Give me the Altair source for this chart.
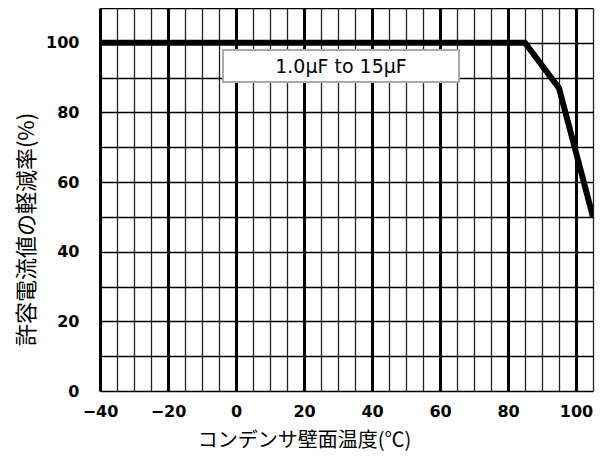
import altair as alt
import pandas as pd

temps = [-40, 85, 95, 105]
rates = [100, 100, 87, 50]
series_label = "1.0μF to 15μF"
x_ticks = list(range(-40, 106, 5))
y_ticks = list(range(0, 111, 10))

df = pd.DataFrame({"t": temps, "r": rates})

x_axis = alt.Axis(
    values=x_ticks,
    labelExpr="datum.value % 20 === 0 && datum.value <= 100 ? datum.label : ''",
    grid=True,
    gridColor={"condition": {"test": "datum.value % 20 === 0", "value": "#000000"}, "value": "#222222"},
    gridWidth={"condition": {"test": "datum.value % 20 === 0", "value": 3}, "value": 1.3},
    ticks=False,
    domain=False,
    labelFont="DejaVu Sans",
    labelFontWeight="bold",
    labelFontSize=16,
    labelColor="#000000",
    labelPadding=12,
    labelFlush=False,
    title="コンデンサ壁面温度(℃)",
    titleFont="Noto Sans CJK JP",
    titleFontWeight="normal",
    titleFontSize=20,
    titleColor="#000000",
    titleAnchor="start",
    titleAlign="center",
    titleBaseline="middle",
    titleLimit=500,
    titleX=204,
    titleY=49,
)

y_axis = alt.Axis(
    values=y_ticks,
    labelExpr="datum.value % 20 === 0 && datum.value <= 100 ? datum.label : ''",
    grid=True,
    gridColor="#000000",
    gridWidth=1.4,
    ticks=False,
    domain=False,
    labelFont="DejaVu Sans",
    labelFontWeight="bold",
    labelFontSize=16,
    labelColor="#000000",
    labelPadding=21,
    labelFlush=False,
    title="許容電流値の軽減率(%)",
    titleFont="Noto Sans CJK JP",
    titleFontWeight="normal",
    titleFontSize=22,
    titleColor="#000000",
    titleAnchor="start",
    titleAlign="center",
    titleBaseline="middle",
    titleAngle=270,
    titleLimit=500,
    titleX=-74,
    titleY=221,
)

line = alt.Chart(df).mark_line(color="#000000", strokeWidth=6, strokeJoin="miter", clip=True).encode(
    x=alt.X("t:Q", scale=alt.Scale(domain=[-40, 105], nice=False, zero=False), axis=x_axis),
    y=alt.Y("r:Q", scale=alt.Scale(domain=[0, 110], nice=False), axis=y_axis),
)

box = alt.Chart(pd.DataFrame({"label": [series_label]})).mark_rect(
    fill="#ffffff", stroke="#aaaaaa", strokeWidth=2
).encode(
    x=alt.value(123), x2=alt.value(359), y=alt.value(42), y2=alt.value(74)
)

text = alt.Chart(pd.DataFrame({"label": [series_label]})).mark_text(
    font="DejaVu Sans", fontSize=19, color="#000000", align="center", baseline="middle"
).encode(
    text="label:N", x=alt.value(241), y=alt.value(59)
)

chart = alt.layer(line, box, text).properties(
    width=493,
    height=383,
    autosize=alt.AutoSizeParams(type="none"),
    padding={"left": 92, "top": 0, "right": 2, "bottom": 61},
).configure_view(stroke="#000000", strokeWidth=4).configure(background="#ffffff")

chart.save("out.html", embed_options={"renderer": "svg", "actions": False})
